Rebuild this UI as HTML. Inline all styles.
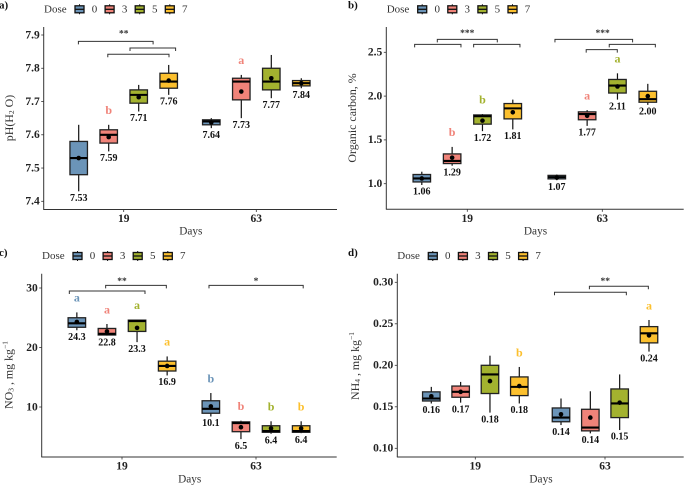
<!DOCTYPE html>
<html>
<head>
<meta charset="utf-8">
<title>Boxplots by dose and days</title>
<style>
html,body{margin:0;padding:0;background:#fff;}
#figure{display:block;width:685px;height:486px;font-family:"Liberation Serif",serif;filter:blur(0.35px);}
</style>
</head>
<body>
<svg id="figure" xmlns="http://www.w3.org/2000/svg" width="685" height="486" viewBox="0 0 685 486"></svg>
<script>
const doses = ['0', '3', '5', '7'];
const days = ['19', '63'];
const doseColors = ['#6b94b8', '#f08379', '#a3b22f', '#fcc02e'];

// Each box row: [whisker low, box low, median, box high, whisker high, mean]
const phBoxes = [
  [7.43, 7.48, 7.53, 7.58, 7.63, 7.53],
  [7.55, 7.575, 7.60, 7.615, 7.63, 7.593],
  [7.67, 7.695, 7.72, 7.735, 7.75, 7.713],
  [7.72, 7.74, 7.76, 7.785, 7.81, 7.763],
  [7.62, 7.63, 7.64, 7.645, 7.65, 7.637],
  [7.65, 7.705, 7.76, 7.77, 7.78, 7.73],
  [7.71, 7.735, 7.76, 7.80, 7.84, 7.77],
  [7.74, 7.747, 7.755, 7.763, 7.77, 7.755]
];
const phLabels = ['7.53', '7.59', '7.71', '7.76', '7.64', '7.73', '7.77', '7.84'];
const phLetters = ['', 'b', '', '', '', 'a', '', ''];
const phTicks = [7.4, 7.5, 7.6, 7.7, 7.8, 7.9];

const carbonBoxes = [
  [0.985, 1.02, 1.06, 1.105, 1.137, 1.06],
  [1.205, 1.23, 1.26, 1.34, 1.42, 1.297],
  [1.60, 1.68, 1.77, 1.785, 1.795, 1.72],
  [1.62, 1.74, 1.86, 1.915, 1.96, 1.815],
  [1.04, 1.055, 1.075, 1.095, 1.105, 1.07],
  [1.66, 1.73, 1.795, 1.82, 1.84, 1.775],
  [1.96, 2.035, 2.12, 2.19, 2.26, 2.11],
  [1.90, 1.93, 1.965, 2.055, 2.14, 2.00]
];
const carbonLabels = ['1.06', '1.29', '1.72', '1.81', '1.07', '1.77', '2.11', '2.00'];
const carbonLetters = ['', 'b', 'b', '', '', 'a', 'a', ''];
const carbonTicks = [1.0, 1.5, 2.0, 2.5];

const nitrateBoxes = [
  [22.9, 23.4, 24.06, 25.0, 25.9, 24.3],
  [22.0, 22.1, 22.3, 23.2, 23.95, 22.7],
  [20.9, 22.7, 24.45, 24.6, 24.7, 23.3],
  [15.3, 16.05, 16.9, 17.7, 18.5, 16.9],
  [8.4, 8.95, 9.7, 11.05, 12.35, 10.1],
  [4.6, 5.85, 7.3, 7.5, 7.7, 6.6],
  [5.5, 5.75, 5.95, 6.85, 7.6, 6.4],
  [5.6, 5.75, 5.95, 6.85, 7.6, 6.4]
];
const nitrateLabels = ['24.3', '22.8', '23.3', '16.9', '10.1', '6.5', '6.4', '6.4'];
const nitrateLetters = ['a', 'a', 'a', 'a', 'b', 'b', 'b', 'b'];
const nitrateTicks = [10, 20, 30];

const ammoniumBoxes = [
  [0.154, 0.157, 0.160, 0.168, 0.174, 0.1627],
  [0.155, 0.1615, 0.168, 0.175, 0.18, 0.168],
  [0.143, 0.166, 0.189, 0.20, 0.2116, 0.181],
  [0.154, 0.1635, 0.174, 0.186, 0.198, 0.175],
  [0.128, 0.132, 0.137, 0.1486, 0.16, 0.141],
  [0.118, 0.121, 0.125, 0.147, 0.1687, 0.137],
  [0.122, 0.137, 0.154, 0.1715, 0.189, 0.155],
  [0.2165, 0.227, 0.2385, 0.2466, 0.2546, 0.236]
];
const ammoniumLabels = ['0.16', '0.17', '0.18', '0.18', '0.14', '0.14', '0.15', '0.24'];
const ammoniumLetters = ['', '', '', 'b', '', '', '', 'a'];
const ammoniumTicks = [0.10, 0.15, 0.20, 0.25, 0.30];

// Significance brackets: [from slot, to slot, value]; slots are box widths from the first day's centre
const phBrackets = [[-1.51, 0.98, 7.881], [0.21, 1.73, 7.861], [-0.53, 1.51, 7.842]];
const phStars = [['**', 0, 7.907]];
const carbonBrackets = [[-1.736, -0.209, 2.591], [-0.989, 0.989, 2.648], [0.209, 1.736, 2.591], [2.89, 5.45, 2.648], [4.68, 6.20, 2.591], [3.92, 4.945, 2.53]];
const carbonStars = [['***', 0, 2.725], ['***', 4.46, 2.725]];
const nitrateBrackets = [[-1.75, 0.764, 29.5], [-0.543, 1.473, 30.45], [2.89, 6.02, 30.45]];
const nitrateStars = [['**', 0, 31.3], ['*', 4.45, 31.3]];
const ammoniumBrackets = [[2.70, 5.15, 0.288], [3.89, 5.90, 0.2952]];
const ammoniumStars = [['**', 4.43, 0.3022]];

const panels = [
  {key:'ph', tag:'a)', tagX:-1, tagY:9, left:43.7, right:337, top:27, bottom:209.5,
   yA:7.4, pA:201.3, yB:7.9, pB:35, dec:1, x0:123.7, x1:256.3, step:30,
   boxes:phBoxes, labels:phLabels, letters:phLetters, ticks:phTicks, brackets:phBrackets, stars:phStars,
   titleX:9, titleY:118, title:['pH(H','2',' O)'], kind:'sub',
   legendX:44, legendY:9.3, dayY:219, daysY:231.7},
  {key:'carbon', tag:'b)', tagX:348, tagY:9, left:386.3, right:683.7, top:27, bottom:209.3,
   yA:1.0, pA:183.7, yB:2.5, pB:52.3, dec:1, x0:467.3, x1:602.3, step:30.33,
   boxes:carbonBoxes, labels:carbonLabels, letters:carbonLetters, ticks:carbonTicks, brackets:carbonBrackets, stars:carbonStars,
   titleX:352, titleY:118, title:['Organic carbon, %'], kind:'plain',
   legendX:386.7, legendY:9.3, dayY:219, daysY:231.7},
  {key:'nitrate', tag:'c)', tagX:-1, tagY:256.5, left:41.7, right:336.7, top:273.7, bottom:457,
   yA:10, pA:407, yB:30, pB:288, dec:0, x0:122, x1:256, step:30.1,
   boxes:nitrateBoxes, labels:nitrateLabels, letters:nitrateLetters, ticks:nitrateTicks, brackets:nitrateBrackets, stars:nitrateStars,
   titleX:8.5, titleY:375, title:['NO','3',' , mg kg','\u22121'], kind:'subsup',
   legendX:42, legendY:256, dayY:466.5, daysY:479.7},
  {key:'ammonium', tag:'d)', tagX:348, tagY:256.5, left:397.3, right:683.7, top:273.7, bottom:457,
   yA:0.10, pA:448.3, yB:0.30, pB:282.3, dec:2, x0:475.3, x1:605, step:29.33,
   boxes:ammoniumBoxes, labels:ammoniumLabels, letters:ammoniumLetters, ticks:ammoniumTicks, brackets:ammoniumBrackets, stars:ammoniumStars,
   titleX:355, titleY:366, title:['NH','4',' , mg kg','\u22121'], kind:'subsup',
   legendX:397.3, legendY:256, dayY:466.5, daysY:479.7}
];

const NS = 'http://www.w3.org/2000/svg';
const root = document.getElementById('figure');

function make(parent, tag, attrs, text) {
  const el = document.createElementNS(NS, tag);
  for (const k in attrs) el.setAttribute(k, attrs[k]);
  if (text !== undefined) el.textContent = text;
  parent.appendChild(el);
  return el;
}
function line(parent, x1, y1, x2, y2, stroke, w) {
  const el = make(parent, 'line', {x1:x1, y1:y1, x2:x2, y2:y2, stroke:stroke, 'stroke-width':w});
  
  
  return el;
}
function label(parent, x, y, str, size, weight, fill, anchor) {
  const el = make(parent, 'text', {x:x, y:y, 'font-size':size, 'font-weight':weight, fill:fill, 'text-anchor':anchor || 'middle', 'dominant-baseline':'central'}, str);
  
  
  return el;
}

const BOX_W = 17.5;

panels.forEach(function (p) {
  const g = make(root, 'g', {});
  
  

  const yScale = function (v) { return p.pA + (v - p.yA) * (p.pB - p.pA) / (p.yB - p.yA); };
  const slotX = function (u) { return p.x0 + u * p.step; };
  const dayX = [p.x0, p.x1];

  // Panel tag
  const tag = label(g, p.tagX, p.tagY - 3.5, p.tag, 11, 'bold', '#111', 'start');
  

  // Legend
  const legend = make(g, 'g', {});
  
  
  const ltitle = label(legend, p.legendX, p.legendY, 'Dose', 11, 'normal', '#333', 'start');
  
  doses.forEach(function (d, i) {
    const cx = p.legendX + 35.5 + i * 30.1;
    const entry = make(legend, 'g', {});
    
    
    line(entry, cx, p.legendY - 5, cx, p.legendY + 5, '#111', 1);
    make(entry, 'rect', {x:cx - 4.5, y:p.legendY - 3.5, width:9, height:7, fill:doseColors[i], stroke:'#111', 'stroke-width':1.3});
    line(entry, cx - 4.5, p.legendY, cx + 4.5, p.legendY, '#111', 1.3);
    label(entry, cx + 15, p.legendY, d, 11, 'normal', '#333');
  });

  // Axes
  const yAxis = line(g, p.left, p.top, p.left, p.bottom, '#333', 1);
  
  const xAxis = line(g, p.left - 0.4, p.bottom, p.right, p.bottom, '#333', 1);
  

  p.ticks.forEach(function (t) {
    const y = yScale(t);
    line(g, p.left - 2.5, y, p.left, y, '#333', 0.8);
    const lab = label(g, p.left - 4, y + 0.3, t.toFixed(p.dec === 0 ? 0 : p.dec), 11.5, 'bold', '#222', 'end');
    
  });
  days.forEach(function (d, i) {
    line(g, dayX[i], p.bottom, dayX[i], p.bottom + 2.5, '#333', 0.8);
    const lab = label(g, dayX[i], p.dayY, d, 11.5, 'bold', '#222');
    
  });
  const xTitle = label(g, (p.left + p.right) / 2 + 0.5, p.daysY, 'Days', 11.3, 'normal', '#333');
  

  // Y title
  const t = make(g, 'text', {transform:'translate(' + p.titleX + ',' + p.titleY + ') rotate(-90)', 'font-size':11.9, fill:'#333', 'text-anchor':'middle', 'dominant-baseline':'central'});
  
  
  if (p.kind === 'plain') {
    t.textContent = p.title[0];
  } else {
    make(t, 'tspan', {}, p.title[0]);
    make(t, 'tspan', {'font-size':7.5, dy:2}, p.title[1]);
    make(t, 'tspan', {dy:-2}, p.title[2]);
    if (p.kind === 'subsup') make(t, 'tspan', {'font-size':7.5, dy:-4}, p.title[3]);
  }

  // Boxes
  p.boxes.forEach(function (b, i) {
    const dose = i % 4;
    const day = Math.floor(i / 4);
    const cx = dayX[day] + (dose - 1.5) * p.step;
    const bg = make(g, 'g', {});
    
    
    const wLow = yScale(b[0]), qLow = yScale(b[1]), med = yScale(b[2]), qHigh = yScale(b[3]), wHigh = yScale(b[4]), mean = yScale(b[5]);
    line(bg, cx, wLow, cx, wHigh, '#111', 1.2);
    make(bg, 'rect', {x:cx - BOX_W / 2, y:qHigh, width:BOX_W, height:Math.max(qLow - qHigh, 0.5), fill:doseColors[dose], stroke:'#222', 'stroke-width':1.3});
    line(bg, cx - BOX_W / 2, med, cx + BOX_W / 2, med, '#000', 2.1);
    make(bg, 'circle', {cx:cx, cy:mean, r:2.3, fill:'#000'});
    const v = label(bg, cx, wLow + 7.2, p.labels[i], 10, 'bold', '#111');
    
    if (p.letters[i]) {
      const l = label(bg, cx, wHigh - 14.7, p.letters[i], 12, 'bold', doseColors[dose]);
      
    }
  });

  // Brackets
  p.brackets.forEach(function (br) {
    const x1 = slotX(br[0]), x2 = slotX(br[1]), y = yScale(br[2]);
    const path = make(g, 'path', {d:'M' + x1 + ' ' + (y + 3) + 'V' + y + 'H' + x2 + 'V' + (y + 3), fill:'none', stroke:'#333', 'stroke-width':1});
    
    
  });
  p.stars.forEach(function (s) {
    const st = make(g, 'text', {x:slotX(s[1]), y:yScale(s[2]) + 3.6, 'font-size':9.5, 'font-weight':'bold', fill:'#333', 'text-anchor':'middle'}, s[0]);
    
    
  });
});
</script>
</body>
</html>
